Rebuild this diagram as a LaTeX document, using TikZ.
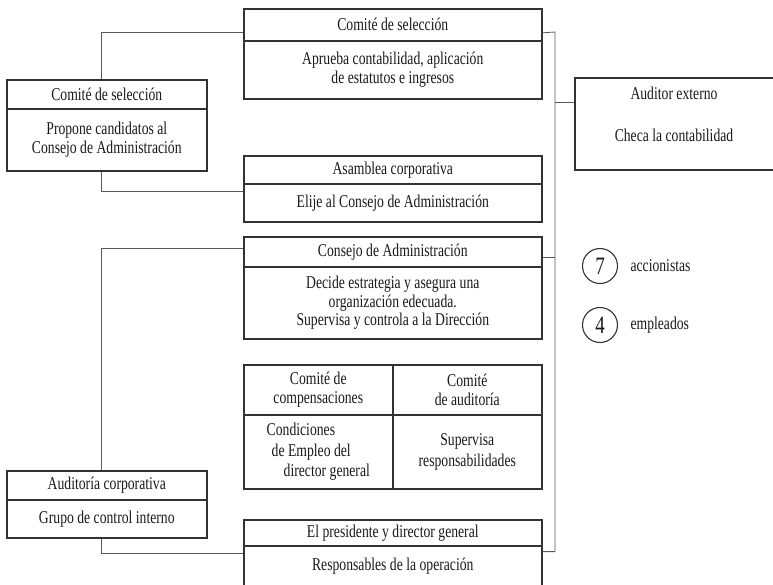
\documentclass[tikz,border=0pt]{standalone}
\usepackage{fontspec}
\setmainfont{Liberation Serif}[FakeStretch=0.76]
\begin{document}
\begin{tikzpicture}[x=1pt,y=-1pt,font=\fontsize{18pt}{18.5pt}\selectfont,
every node/.style={text=black!90},
cell/.style={draw=black!80,line width=1.6pt,anchor=north west,inner sep=0pt,align=center,minimum width=#1},
cell/.default=298pt,
link/.style={draw=black!65,line width=0.8pt},
ring/.style={circle,draw=black!80,line width=1.1pt,minimum size=35pt,inner sep=0pt,font=\fontsize{25pt}{25pt}\selectfont}]
\useasboundingbox(0,0)rectangle(773,584);
\clip(0,0)rectangle(773,584);
\node[cell,minimum height=32pt](selT-t)at(243,8){Comité de selección};
\node[cell,minimum height=58pt](selT-b)at(243,40){Aprueba contabilidad, aplicación\\de estatutos e ingresos};
\node[cell=200pt,minimum height=29pt](selL-t)at(6,79){Comité de selección};
\node[cell=200pt,minimum height=62pt](selL-b)at(6,108){Propone candidatos al\\Consejo de Administración};
\node[cell,minimum height=28pt](asam-t)at(243,155){Asamblea corporativa};
\node[cell,minimum height=38pt](asam-b)at(243,183){Elije al Consejo de Administración};
\node[cell,minimum height=30pt](cons-t)at(243,236){Consejo de Administración};
\node[cell,minimum height=72pt](cons-b)at(243,266){Decide estrategia y asegura una\\organización edecuada.\\Supervisa y controla a la Dirección};
\node[cell=149pt,minimum height=50pt](comp-t)at(243,364){Comité de\\compensaciones};
\node[cell=149pt,minimum height=50pt](audi-t)at(392,364){Comité\\de auditoría};
\node[cell=149pt,minimum height=74pt,align=left](comp-b)at(243,414){Condiciones\\[2pt]\hspace*{5pt}de Empleo del\\[2pt]\hspace*{17pt}director general};
\node[cell=149pt,minimum height=74pt](audi-b)at(392,414){Supervisa\\[2pt]responsabilidades};
\node[cell=200pt,minimum height=29pt](audC-t)at(6,470){Auditoría corporativa};
\node[cell=200pt,minimum height=38pt](audC-b)at(6,499){Grupo de control interno};
\node[cell,minimum height=26pt](pres-t)at(243,519){El presidente y director general};
\node[cell,minimum height=40pt](pres-b)at(243,545){Responsables de la operación};
\node[cell=202pt,minimum height=92pt](ext)at(574,77){};
\node(ext-t)at(674,93){Auditor externo};
\node(ext-b)at(674,135){Checa la contabilidad};
\node[ring](n7)at(600,266){7};
\node[anchor=west](acc)at(627,266){accionistas};
\node[ring](n4)at(600,325){4};
\node[anchor=west](emp)at(627,325){empleados};
\coordinate(trk)at(555,32);
\draw[link]([xshift=-5pt]selL-t.north)|-([yshift=-8pt]selT-t.west);
\draw[link]([xshift=-5pt]selL-b.south)|-([yshift=11pt]asam-b.west);
\draw[link]([yshift=3pt]cons-t.west)-|([xshift=-5pt]audC-t.north);
\draw[link]([xshift=-5pt]audC-b.south)|-([yshift=-7pt]pres-t.south west);
\draw[link]([yshift=-8pt]selT-t.east)--(trk)|-([yshift=-5pt]pres-t.south east);
\draw[link]([yshift=21pt]ext.west)--([yshift=21pt]ext.west-|trk);
\draw[link]([yshift=-6pt]cons-t.east)--([yshift=-6pt]cons-t.east-|trk);
\end{tikzpicture}
\end{document}
